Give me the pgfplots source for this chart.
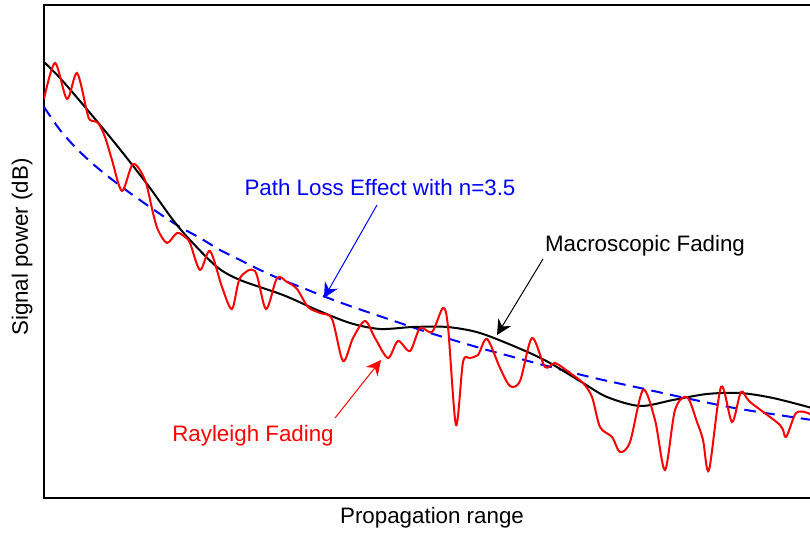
\documentclass[border=0pt]{standalone}
\usepackage{pgfplots}
\pgfplotsset{compat=1.18}
\usepackage{fontspec}
\setmainfont{Liberation Sans}
\usetikzlibrary{arrows.meta}
\begin{document}
\fontsize{13.4pt}{16pt}\selectfont
\begin{tikzpicture}
\begin{axis}[
  at={(26.4pt,21.6pt)}, anchor=south west,
  scale only axis, width=460.8pt, height=295.8pt,
  xmin=44, xmax=812, ymin=-498, ymax=-5,
  xtick=\empty, ytick=\empty,
  axis line style={line width=0.8pt},
  clip mode=individual,
]
% Path loss (blue dashed)
\addplot[blue, line width=1.2pt, dash pattern=on 7pt off 4.4pt, smooth] coordinates {
(44,-107)(60,-130)(77,-149)(93,-164)(110,-178)(130,-193)(147,-205)(163,-216)(180,-227)
(200,-238)(220,-250)(240,-260)(258,-269)(280,-279)(303,-288)(323,-296)(350,-306)
(397,-322)(430,-333)(480,-348)(517,-358)(543,-365)(590,-377)(640,-388)(690,-399)(740,-409)(812,-420)};
% Macroscopic (black)
\addplot[black, line width=1.2pt, smooth] coordinates {
(44,-62)(60,-78)(85,-107)(110,-137)(130,-162)(150,-188)(173,-220)(190,-240)(217,-267)(240,-280)
(283,-295)(317,-310)(350,-323)(380,-329)(413,-327)(447,-327)(480,-333)(523,-350)
(550,-363)(583,-383)(607,-397)(640,-406)(673,-400)(707,-394)(740,-393)(773,-398)(812,-408)};
% Rayleigh (red)
\addplot[red, line width=1.2pt, smooth] coordinates {
(44,-99)(55,-63)(67,-99)(77,-73)(87,-112)(90,-120)(98,-123)(105,-137)(112,-160)(122,-191)
(133,-164)(145,-180)(153,-213)(158,-230)(167,-243)(177,-233)(185,-237)(190,-243)(200,-270)
(210,-251)(222,-287)(232,-309)(240,-278)(255,-271)(266,-309)(277,-278)(287,-282)(297,-289)
(308,-307)(320,-313)(332,-319)(343,-361)(353,-338)(365,-321)(375,-338)(388,-358)(398,-341)
(410,-351)(420,-328)(432,-332)(443,-308)(448,-327)(456,-425)(463,-362)(470,-358)(478,-355)
(487,-339)(500,-368)(510,-386)(520,-381)(532,-338)(545,-367)(555,-363)(570,-373)(583,-383)
(592,-397)(600,-427)(612,-437)(620,-452)(630,-442)(643,-390)(655,-420)(665,-470)(675,-410)
(687,-397)(697,-422)(703,-440)(709,-470)(721,-387)(732,-422)(741,-392)(750,-402)(780,-425)
(786,-437)(796,-413)(808,-413)(812,-416)};
% annotations
\node[blue] at (axis cs:380,-188) {Path Loss Effect with n=3.5};
\node[black] at (axis cs:645,-246) {Macroscopic Fading};
\node[red] at (axis cs:253,-436) {Rayleigh Fading};
\draw[blue, line width=0.6pt, -{Stealth[length=9pt,width=9pt,inset=3pt]}] (axis cs:377,-205) -- (axis cs:324,-298);
\draw[black, line width=0.6pt, -{Stealth[length=9pt,width=9pt,inset=3pt]}] (axis cs:543,-259) -- (axis cs:497,-335);
\draw[red, line width=0.6pt, -{Stealth[length=9pt,width=9pt,inset=3pt]}] (axis cs:335,-418) -- (axis cs:381,-360);
\node at (axis cs:432,-518) {Propagation range};
\node[rotate=90] at (axis cs:22,-247) {Signal power (dB)};
\end{axis}
\pgfresetboundingbox
\useasboundingbox (0,0) rectangle (486pt,320.4pt);
\end{tikzpicture}
\end{document}
